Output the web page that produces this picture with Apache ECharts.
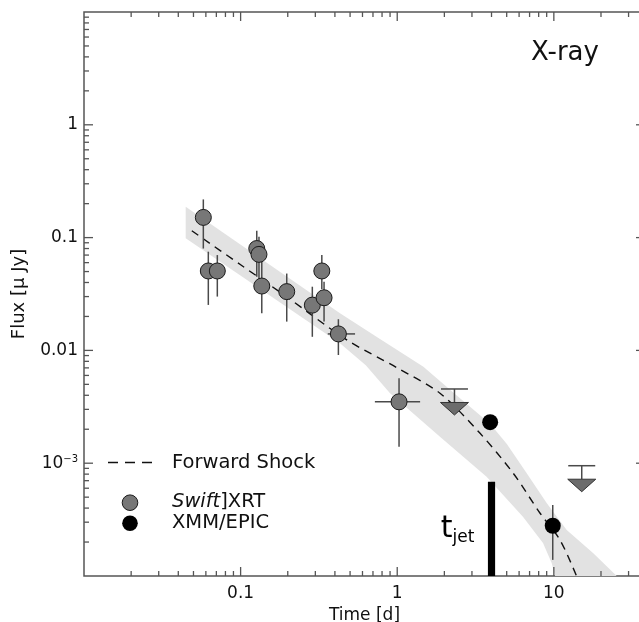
<!DOCTYPE html>
<html><head><meta charset="utf-8">
<script src="https://cdn.jsdelivr.net/npm/echarts@6/dist/echarts.min.js"></script>
<style>html,body{margin:0;padding:0;background:#fff}#c{width:639px;height:622px}</style>
</head><body><div id="c"></div>
<script>
// ---- data ----
const xrtT   = [0.0578, 0.0622, 0.0710, 0.1268, 0.131, 0.1365, 0.197, 0.287, 0.330, 0.341, 0.421, 1.027];
const xrtF   = [0.151, 0.0506, 0.0506, 0.080, 0.071, 0.0372, 0.0332, 0.0252, 0.0506, 0.0293, 0.0140, 0.0035];
const xrtFlo = [0.080, 0.0253, 0.030, 0.045, 0.043, 0.0213, 0.018, 0.0132, 0.035, 0.018, 0.0091, 0.0014];
const xrtFhi = [0.218, 0.075, 0.070, 0.115, 0.102, 0.063, 0.048, 0.0367, 0.070, 0.0406, 0.0189, 0.00566];
const xrtTlo = [null, null, null, null, null, null, null, null, null, null, 0.36, 0.72];
const xrtThi = [null, null, null, null, null, null, null, null, null, null, 0.538, 1.40];

const xmmT   = [3.92, 9.84];
const xmmF   = [0.00231, 2.79e-4];
const xmmFlo = [null, 1.39e-4];
const xmmFhi = [null, 4.26e-4];

const ulT = [2.32, 15.07];
const ulF = [0.00455, 9.5e-4];

const modelT = [0.0488, 0.1, 0.2, 0.476, 1.0, 1.875, 3.38, 5.51, 8.17, 10.96, 14.0];
const modelF = [0.115, 0.0574, 0.0294, 0.0124, 0.0070, 0.00417, 0.00184, 8.13e-4, 3.6e-4, 2.08e-4, 9.9e-5];

const bandUpT = [0.0446, 0.431, 0.776, 1.469, 2.307, 3.917, 5.01, 6.71, 9.02, 12.08, 17.86, 25.2];
const bandUpF = [0.188, 0.0213, 0.0126, 0.00716, 0.00418, 0.00224, 0.00148, 8.13e-4, 4.41e-4, 2.56e-4, 1.59e-4, 1.0e-4];
const bandLoT = [0.0446, 0.431, 0.63, 0.90, 1.875, 3.72, 6.35, 8.53, 9.70, 10.19];
const bandLoF = [0.0986, 0.01156, 0.0074, 0.00417, 0.00172, 7.59e-4, 3.36e-4, 1.96e-4, 1.3e-4, 1.0e-4];

const tjetT = 4.0;
const tjetTop = 6.85e-4;

const X_MIN = 0.01, X_MAX = 38.2;
const Y_MIN = 1e-4, Y_MAX = 10;

const xMajor = [0.1, 1, 10];
const xMinor = [0.02,0.03,0.04,0.05,0.06,0.07,0.08,0.09, 0.2,0.3,0.4,0.5,0.6,0.7,0.8,0.9, 2,3,4,5,6,7,8,9, 20,30];
const yMajor = [1e-3, 0.01, 0.1, 1];
const yMinor = [2e-4,3e-4,4e-4,5e-4,6e-4,7e-4,8e-4,9e-4, 2e-3,3e-3,4e-3,5e-3,6e-3,7e-3,8e-3,9e-3,
                0.02,0.03,0.04,0.05,0.06,0.07,0.08,0.09, 0.2,0.3,0.4,0.5,0.6,0.7,0.8,0.9, 2,3,4,5,6,7,8,9];
const xLabels = {'-1': '0.1', '0': '1', '1': '10'};
const yLabels = {'0': '1', '-1': '0.1', '-2': '0.01', '-3': '{a|10}{b|\u22123}'};

// ---- styling ----
const FONT = 'DejaVu Sans';
const FRAME = '#555';
const ERR = '#4a4a4a';

const chart = echarts.init(document.getElementById('c'), null, {renderer: 'canvas'});

function xTickItem(len) {
  return function (params, api) {
    const v = api.value(0);
    const b = api.coord([v, Y_MIN]);
    const t = api.coord([v, Y_MAX]);
    return {type: 'group', children: [
      {type: 'line', shape: {x1: b[0], y1: b[1], x2: b[0], y2: b[1] - len}, style: {stroke: FRAME, lineWidth: 1.3}},
      {type: 'line', shape: {x1: t[0], y1: t[1], x2: t[0], y2: t[1] + len}, style: {stroke: FRAME, lineWidth: 1.3}}
    ]};
  };
}
function yTickItem(len) {
  return function (params, api) {
    const v = api.value(1);
    const l = api.coord([X_MIN, v]);
    const r = api.coord([X_MAX, v]);
    return {type: 'group', children: [
      {type: 'line', shape: {x1: l[0], y1: l[1], x2: l[0] + len, y2: l[1]}, style: {stroke: FRAME, lineWidth: 1.3}},
      {type: 'line', shape: {x1: r[0], y1: r[1], x2: r[0] - len, y2: r[1]}, style: {stroke: FRAME, lineWidth: 1.3}}
    ]};
  };
}

const option = {
  animation: false,
  backgroundColor: '#fff',
  grid: {left: 84, top: 12, width: 561, height: 564, show: true, borderColor: FRAME, borderWidth: 1.5,
         backgroundColor: 'transparent', containLabel: false, outerBoundsMode: 'none'},
  xAxis: {
    type: 'log', logBase: 10, min: X_MIN, max: X_MAX,
    axisLine: {show: false}, axisTick: {show: false}, splitLine: {show: false}, minorTick: {show: false},
    axisLabel: {
      margin: 9, fontSize: 17, fontFamily: FONT, color: '#111',
      formatter: function (v) { const e = Math.round(Math.log10(v)); return xLabels[String(e)] || ''; }
    },
    name: 'Time [d]', nameLocation: 'middle', nameGap: 21,
    nameTextStyle: {fontSize: 17, fontFamily: FONT, color: '#111'}
  },
  yAxis: {
    type: 'log', logBase: 10, min: Y_MIN, max: Y_MAX,
    axisLine: {show: false}, axisTick: {show: false}, splitLine: {show: false}, minorTick: {show: false},
    axisLabel: {
      margin: 6, fontSize: 17, fontFamily: FONT, color: '#111',
      formatter: function (v) { const e = Math.round(Math.log10(v)); return yLabels[String(e)] || ''; },
      rich: {
        a: {fontSize: 17, fontFamily: FONT, color: '#111'},
        b: {fontSize: 10, fontFamily: FONT, color: '#111', verticalAlign: 'top', padding: [0, 0, 6, 0]}
      }
    },
    name: 'Flux [\u03bc Jy]', nameLocation: 'middle', nameGap: 56,
    nameTextStyle: {fontSize: 18, fontFamily: FONT, color: '#111'}
  },
  series: [
    { // confidence band
      type: 'custom', z: 1, clip: true, silent: true,
      data: [[bandUpT[0], bandUpF[0]]],
      renderItem: function (params, api) {
        const pts = [];
        for (let i = 0; i < bandUpT.length; i++) pts.push(api.coord([bandUpT[i], bandUpF[i]]));
        for (let i = bandLoT.length - 1; i >= 0; i--) pts.push(api.coord([bandLoT[i], bandLoF[i]]));
        return {type: 'polygon', shape: {points: pts}, style: {fill: '#e2e2e2'}};
      }
    },
    { // forward shock model
      type: 'line', z: 2, symbol: 'none', clip: true, silent: true,
      data: modelT.map((t, i) => [t, modelF[i]]),
      lineStyle: {color: '#111', width: 1.4, type: [8, 6]}, smooth: 0.3
    },
    { type: 'custom', z: 3, silent: true, data: xMinor.map(v => [v, Y_MIN]), renderItem: xTickItem(5) },
    { type: 'custom', z: 3, silent: true, data: xMajor.map(v => [v, Y_MIN]), renderItem: xTickItem(9) },
    { type: 'custom', z: 3, silent: true, data: yMinor.map(v => [X_MIN, v]), renderItem: yTickItem(5) },
    { type: 'custom', z: 3, silent: true, data: yMajor.map(v => [X_MIN, v]), renderItem: yTickItem(9) },
    { // XRT error bars
      type: 'custom', z: 4, silent: true,
      data: xrtT.map((t, i) => [t, xrtF[i]]),
      renderItem: function (params, api) {
        const i = params.dataIndex;
        const ch = [];
        const lo = api.coord([xrtT[i], xrtFlo[i]]), hi = api.coord([xrtT[i], xrtFhi[i]]);
        ch.push({type: 'line', shape: {x1: lo[0], y1: lo[1], x2: hi[0], y2: hi[1]}, style: {stroke: ERR, lineWidth: 1.5}});
        if (xrtTlo[i] != null) {
          const l = api.coord([xrtTlo[i], xrtF[i]]), r = api.coord([xrtThi[i], xrtF[i]]);
          ch.push({type: 'line', shape: {x1: l[0], y1: l[1], x2: r[0], y2: r[1]}, style: {stroke: ERR, lineWidth: 1.5}});
        }
        return {type: 'group', children: ch};
      }
    },
    { // XMM error bars
      type: 'custom', z: 4, silent: true,
      data: xmmT.map((t, i) => [t, xmmF[i]]),
      renderItem: function (params, api) {
        const i = params.dataIndex;
        if (xmmFlo[i] == null) return {type: 'group', children: []};
        const lo = api.coord([xmmT[i], xmmFlo[i]]), hi = api.coord([xmmT[i], xmmFhi[i]]);
        return {type: 'line', shape: {x1: lo[0], y1: lo[1], x2: hi[0], y2: hi[1]}, style: {stroke: ERR, lineWidth: 1.5}};
      }
    },
    {
      name: 'Swift/XRT', type: 'scatter', z: 5, symbol: 'circle', symbolSize: 16,
      data: xrtT.map((t, i) => [t, xrtF[i]]),
      itemStyle: {color: '#777', borderColor: '#1a1a1a', borderWidth: 1, opacity: 1}
    },
    {
      name: 'XMM/EPIC', type: 'scatter', z: 5, symbol: 'circle', symbolSize: 16,
      data: xmmT.map((t, i) => [t, xmmF[i]]),
      itemStyle: {color: '#000', opacity: 1}
    },
    { // upper limits
      type: 'custom', z: 5, silent: true,
      data: ulT.map((t, i) => [t, ulF[i]]),
      renderItem: function (params, api) {
        const p = api.coord([api.value(0), api.value(1)]);
        const x = p[0], y = p[1];
        return {type: 'group', children: [
          {type: 'line', shape: {x1: x - 13.5, y1: y, x2: x + 13.5, y2: y}, style: {stroke: ERR, lineWidth: 1.5}},
          {type: 'line', shape: {x1: x, y1: y, x2: x, y2: y + 13.5}, style: {stroke: ERR, lineWidth: 1.5}},
          {type: 'polygon', shape: {points: [[x - 14, y + 13.5], [x + 14, y + 13.5], [x, y + 26]]},
           style: {fill: '#6c6c6c', stroke: '#333', lineWidth: 1}}
        ]};
      }
    },
    { // t_jet marker
      type: 'custom', z: 6, silent: true,
      data: [[tjetT, tjetTop]],
      renderItem: function (params, api) {
        const top = api.coord([api.value(0), api.value(1)]);
        const bot = api.coord([api.value(0), Y_MIN]);
        return {type: 'group', children: [
          {type: 'rect', shape: {x: top[0] - 3.6, y: top[1], width: 7.2, height: bot[1] - top[1]}, style: {fill: '#000'}},
          {type: 'text', x: top[0] - 39, y: bot[1] - 47,
           style: {text: 't', fontSize: 30, fontFamily: FONT, fill: '#000', align: 'right', verticalAlign: 'middle'}},
          {type: 'text', x: top[0] - 39, y: bot[1] - 38,
           style: {text: 'jet', fontSize: 17, fontFamily: FONT, fill: '#000', align: 'left', verticalAlign: 'middle'}}
        ]};
      }
    }
  ],
  graphic: [
    {type: 'text', left: 531, top: 40, z: 10,
     style: {text: 'X-ray', fontSize: 26, fontFamily: FONT, fill: '#111'}},
    {type: 'line', z: 10, shape: {x1: 108, y1: 462.5, x2: 153, y2: 462.5},
     style: {stroke: '#111', lineWidth: 1.4, lineDash: [10, 7]}},
    {type: 'text', x: 172, y: 462.5, z: 10,
     style: {text: 'Forward Shock', fontSize: 19.5, fontFamily: FONT, fill: '#111', verticalAlign: 'middle'}},
    {type: 'circle', z: 10, shape: {cx: 130, cy: 502.7, r: 7.8},
     style: {fill: '#777', stroke: '#1a1a1a', lineWidth: 1}},
    {type: 'text', x: 172, y: 502, z: 10,
     style: {text: '{i|Swift}]XRT', fontSize: 19.5, fontFamily: FONT, fill: '#111', verticalAlign: 'middle',
             rich: {i: {fontStyle: 'italic', fontSize: 19.5, fontFamily: FONT, fill: '#111'}}}},
    {type: 'circle', z: 10, shape: {cx: 130, cy: 523.3, r: 7.8},
     style: {fill: '#000'}},
    {type: 'text', x: 172, y: 523, z: 10,
     style: {text: 'XMM/EPIC', fontSize: 19.5, fontFamily: FONT, fill: '#111', verticalAlign: 'middle'}}
  ]
};
chart.setOption(option);
</script>
</body></html>
